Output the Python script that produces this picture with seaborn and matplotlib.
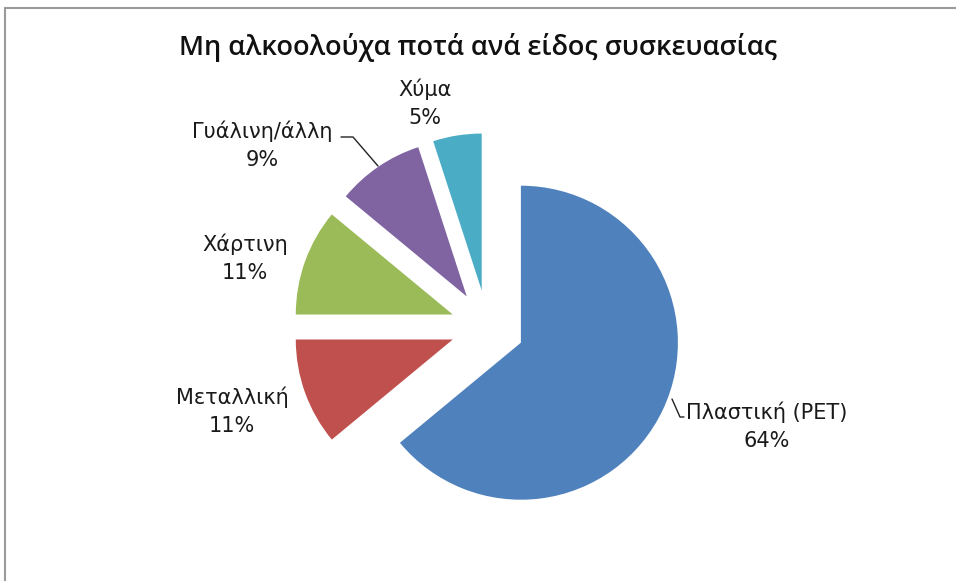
import matplotlib
matplotlib.use("Agg")
import matplotlib.pyplot as plt
import seaborn as sns

# ---- data ----
categories = ["Πλαστική (PET)", "Μεταλλική", "Χάρτινη", "Γυάλινη/άλλη", "Χύμα"]
shares = [64, 11, 11, 9, 5]
title = "Μη αλκοολούχα ποτά ανά είδος συσκευασίας"

sns.set_theme(style="white")
plt.rcParams['font.family'] = ['Open Sans', 'DejaVu Sans']

colors = sns.color_palette(["#4F81BD", "#C0504D", "#9BBB59", "#8064A2", "#4BACC6"])

W, H = 956, 581
fig = plt.figure(figsize=(W / 100, H / 100), dpi=100)
ax = fig.add_axes([0, 0, 1, 1])

# layout: pie centre in pixels and radius in pixels
cx, cy, R = 487.5, 327.0, 157.0

explode = [0.235] * len(shares)
ax.pie(shares, colors=colors, startangle=90, counterclock=False,
       explode=explode, radius=1.0, center=(0, 0), frame=True,
       wedgeprops=dict(linewidth=0))
ax.set_xlim((0 - cx) / R, (W - cx) / R)
ax.set_ylim((cy - H) / R, cy / R)
ax.set_aspect("equal")
ax.axis("off")

def px(x, y):
    return ((x - cx) / R, (cy - y) / R)

# label layout (pixel positions of label centres)
label_pos = [(767, 426), (232, 411), (245, 258), (262, 145), (425, 103)]
for cat, val, (lx, ly) in zip(categories, shares, label_pos):
    ax.text(*px(lx, ly), f"{cat}\n{val}%", ha="center", va="center",
            fontsize=15, linespacing=1.5, color="#1a1a1a",
            family=["DejaVu Sans"])

# leader lines
ax.plot(*zip(px(672, 399), px(680, 417), px(684, 417)), color="#222222", lw=1)
ax.plot(*zip(px(341, 137), px(353, 137), px(378, 166)), color="#222222", lw=1)

fig.suptitle(title, x=478 / W, y=1 - 48 / H, va="center", fontsize=19.5,
             fontweight="semibold", color="#111111")

# outer frame (top and left edges visible)
fig.add_artist(plt.Line2D([5 / W, 1], [1 - 8 / H, 1 - 8 / H], color="#9a9a9a", lw=1.5))
fig.add_artist(plt.Line2D([5 / W, 5 / W], [0, 1 - 8 / H], color="#9a9a9a", lw=1.5))

fig.savefig("out.png", dpi=100)
